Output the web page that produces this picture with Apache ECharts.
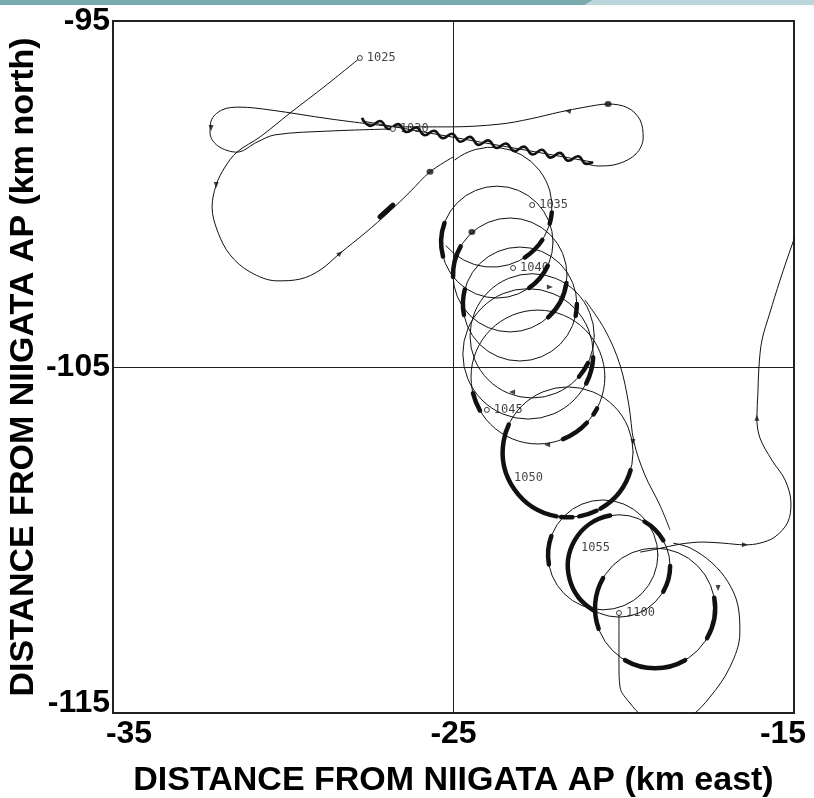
<!DOCTYPE html>
<html><head><meta charset="utf-8">
<script src="https://cdn.jsdelivr.net/npm/echarts@6/dist/echarts.min.js"></script>
<style>html,body{margin:0;padding:0;background:#fff}#c{width:814px;height:798px}</style>
</head><body><div id="c"></div>
<script>
// ---- axis ticks ----
const xTickValues = [-35, -25, -15];
const xTickLabels = ['-35', '-25', '-15'];
const yTickValues = [-115, -105, -95];
const yTickLabels = ['-115', '-105', '-95'];

// ---- flight track pieces (km east, km north) ----
const trackApproach = [[-27.75,-96.07],[-28.77,-96.88],[-29.80,-97.66],[-30.68,-98.35],[-31.36,-98.79],[-31.71,-99.22],[-31.97,-99.74],[-32.09,-100.38],[-31.92,-101.10],[-31.56,-101.76],[-30.98,-102.25],[-30.18,-102.51],[-29.51,-102.46],[-28.92,-102.20],[-28.33,-101.71],[-27.60,-101.13],[-26.86,-100.49],[-26.28,-99.94],[-25.69,-99.36],[-25.01,-98.93]];
const trackWestLoop = [[-26.78,-98.06],[-28.63,-97.83],[-30.39,-97.57],[-31.27,-97.49],[-31.80,-97.57],[-32.12,-97.89],[-32.15,-98.24],[-31.92,-98.61],[-31.36,-98.79],[-30.77,-98.50],[-30.24,-98.29],[-28.63,-98.18],[-26.78,-98.12]];
const trackEastLoop = [[-26.78,-98.06],[-25.10,-98.06],[-23.63,-97.98],[-22.75,-97.83],[-21.87,-97.63],[-21.14,-97.49],[-20.46,-97.40],[-19.88,-97.51],[-19.52,-97.86],[-19.43,-98.38],[-19.64,-98.84],[-20.17,-99.13],[-20.76,-99.19],[-21.20,-99.10]];
const trackWavy = [[-27.69,-97.80],[-27.43,-98.03],[-27.16,-97.89],[-26.90,-98.12],[-26.63,-97.98],[-26.37,-98.21],[-26.10,-98.08],[-25.84,-98.30],[-25.58,-98.17],[-25.31,-98.39],[-25.05,-98.26],[-24.79,-98.49],[-24.52,-98.35],[-24.26,-98.58],[-23.99,-98.45],[-23.73,-98.67],[-23.47,-98.54],[-23.20,-98.76],[-22.94,-98.63],[-22.67,-98.86],[-22.41,-98.72],[-22.15,-98.95],[-21.88,-98.81],[-21.62,-99.04],[-21.35,-98.91],[-21.09,-99.13],[-20.90,-99.08]];
const trackWavyBase = [[-27.69,-97.89],[-20.90,-99.08]];
const trackDescent = [[-21.14,-103.06],[-20.55,-103.93],[-20.11,-104.94],[-19.85,-106.10],[-19.70,-107.17],[-19.38,-108.12],[-18.94,-108.99],[-18.64,-109.71]];
const trackFinalLoop = [[-20.14,-112.11],[-20.14,-112.89],[-20.14,-113.61],[-20.11,-114.25],[-19.82,-114.71],[-19.43,-115.09],[-18.79,-115.26],[-18.05,-115.09],[-17.47,-114.54],[-16.88,-113.67],[-16.59,-112.69],[-16.65,-111.88],[-16.94,-111.21],[-17.41,-110.66],[-18.05,-110.23],[-18.55,-110.09]];
const trackExit = [[-19.52,-110.35],[-19.02,-110.26],[-18.35,-110.12],[-17.67,-110.06],[-17.09,-110.09],[-16.44,-110.14],[-16.00,-110.09],[-15.56,-109.91],[-15.18,-109.48],[-15.09,-108.93],[-15.26,-108.27],[-15.65,-107.69],[-16.00,-107.05],[-16.09,-106.47],[-16.06,-105.75],[-16.03,-105.00],[-15.94,-104.22],[-15.71,-103.44],[-15.41,-102.49],[-15.03,-101.39],[-14.94,-101.16]];

// ---- circling loops: centre, radius (km) and drawn part (degrees, clockwise from east) ----
const loopCx   = [-23.87,-23.72,-23.34,-23.05,-22.69,-22.81,-22.52,-21.64,-20.61,-20.14,-19.08];
const loopCy   = [-100.38,-101.39,-102.34,-103.18,-104.10,-104.62,-105.29,-107.46,-110.43,-110.75,-111.97];
const loopR    = [1.75,1.63,1.66,1.66,1.81,1.90,1.95,1.90,1.60,1.49,1.75];
const loopFrom = [232,0,0,0,0,0,0,0,0,0,0];
const loopTo   = [500,360,360,360,360,360,360,360,360,360,360];

// ---- heavy segments on loops (loop index, from / to angle in degrees, clockwise from east) ----
const thickLoop = [0,0,1,1,2,2,3,3,4,5,6,6,6,7,7,7,7,8,9,9,9,10,10,10];
const thickFrom = [5,33,165,25,178,8,169,0,26,3,150,43,28,100,86,64,16,170,120,300,0,160,-10,60];
const thickTo   = [16,57,200,55,210,48,195,12,41,27,166,68,34,205,96,80,60,200,260,330,30,210,30,120];
const thickLine = [[-27.16,-100.66],[-26.78,-100.32]];
const dotX = [-25.69,-20.46,-24.46];
const dotY = [-99.36,-97.40,-101.10];

// ---- time marks ----
const timeLabels = ['1025','1030','1035','1040','1045','1050','1055','1100'];
const timeX = [-27.75,-26.78,-22.69,-23.25,-24.02,-23.34,-21.37,-20.14];
const timeY = [-96.07,-98.12,-100.32,-102.14,-106.24,-108.21,-110.23,-112.11];
const timeMarked = [true,true,true,true,true,false,false,true];

// ---- direction arrows (travel direction in degrees, counter-clockwise from east) ----
const arrowX = [-31.97,-28.33,-32.12,-16.09,-16.44,-17.23,-19.73,-22.25,-23.28,-22.17,-21.64];
const arrowY = [-99.74,-101.71,-98.09,-106.47,-110.14,-111.39,-107.17,-107.25,-105.72,-102.69,-97.60];
const arrowDir = [-90,40,-90,90,0,-90,-90,180,180,0,170];

const INK = '#111';
const labelFont = {fontFamily:'Liberation Sans, Arial, sans-serif', fontWeight:'bold', fontSize:32, color:'#000'};

function thinLine(data){
  return {type:'line', data:data, smooth:0.35, symbol:'none', lineStyle:{color:INK, width:1}, silent:true, clip:true, z:3};
}
function arcItem(api, a0, a1, width){
  const c = api.coord([api.value(0), api.value(1)]);
  const s = api.size([api.value(2), api.value(2)]);
  return {type:'arc', shape:{cx:c[0], cy:c[1], r:(s[0]+s[1])/2, startAngle:a0*Math.PI/180, endAngle:a1*Math.PI/180, clockwise:true},
          style:{fill:null, stroke:INK, lineWidth:width, lineCap:'round'}};
}

const chart = echarts.init(document.getElementById('c'), null, {renderer:'canvas'});
chart.setOption({
  animation:false,
  backgroundColor:'#fff',
  graphic:[
    {type:'polygon', shape:{points:[[0,0],[593,0],[585,5],[0,5]]}, style:{fill:'#79aaae'}},
    {type:'polygon', shape:{points:[[593,0],[814,0],[814,5],[585,5]]}, style:{fill:'#bad6da'}}
  ],
  grid:{left:113, top:21, width:681, height:692, containLabel:false, outerBoundsMode:'none', show:true, borderColor:'#222', borderWidth:2, backgroundColor:'transparent'},
  xAxis:{
    type:'value', min:-35, max:-15, interval:10,
    axisLine:{show:false}, axisTick:{show:false},
    splitLine:{show:true, lineStyle:{color:'#222', width:1}},
    axisLabel:Object.assign({
      margin:5,
      formatter:function(v){ const i=xTickValues.indexOf(v); const t=xTickLabels[i]; if(i===0) return '{l|'+t+'}'; if(i===2) return '{r|'+t+'}'; return t; },
      rich:{ l:Object.assign({padding:[0,0,0,32]},labelFont), r:Object.assign({padding:[0,22,0,0]},labelFont) }
    }, labelFont),
    name:'DISTANCE FROM NIIGATA AP (km east)', nameLocation:'middle', nameGap:51, nameMoveOverlap:false,
    nameTextStyle:{fontFamily:'Liberation Sans, Arial, sans-serif', fontWeight:'bold', fontSize:34, color:'#000'}
  },
  yAxis:{
    type:'value', min:-115, max:-95, interval:10,
    axisLine:{show:false}, axisTick:{show:false},
    splitLine:{show:true, lineStyle:{color:'#222', width:1}},
    axisLabel:Object.assign({
      margin:3,
      formatter:function(v){ const i=yTickValues.indexOf(v); const t=yTickLabels[i]; if(i===0) return '{b|'+t+'}'; return t; },
      rich:{ b:Object.assign({padding:[0,0,20,0]},labelFont) }
    }, labelFont),
    name:'DISTANCE FROM NIIGATA AP (km north)', nameLocation:'middle', nameGap:72, nameRotate:90, nameMoveOverlap:false,
    nameTextStyle:{fontFamily:'Liberation Sans, Arial, sans-serif', fontWeight:'bold', fontSize:34, color:'#000'}
  },
  series:[
    thinLine(trackApproach),
    thinLine(trackWestLoop),
    thinLine(trackEastLoop),
    thinLine(trackDescent),
    thinLine(trackFinalLoop),
    thinLine(trackExit),
    {type:'line', data:trackWavyBase, symbol:'none', lineStyle:{color:INK, width:1}, silent:true, z:3},
    {type:'line', data:trackWavy, smooth:0.5, symbol:'none', lineStyle:{color:INK, width:2.6}, silent:true, z:4},
    {type:'line', data:thickLine, symbol:'none', lineStyle:{color:INK, width:5, cap:'round'}, silent:true, z:4},
    {
      type:'custom', silent:true, clip:true, z:3,
      data: loopCx.map((x,i)=>[x, loopCy[i], loopR[i], loopFrom[i], loopTo[i]]),
      renderItem:function(params, api){ return arcItem(api, api.value(3), api.value(4), 1); }
    },
    {
      type:'custom', silent:true, clip:true, z:4,
      data: thickLoop.map((k,i)=>[loopCx[k], loopCy[k], loopR[k], thickFrom[i], thickTo[i]]),
      renderItem:function(params, api){ return arcItem(api, api.value(3), api.value(4), 4.5); }
    },
    {type:'scatter', data:dotX.map((x,i)=>[x,dotY[i]]), symbol:'circle', symbolSize:[7,6], itemStyle:{color:INK}, silent:true, z:5},
    {
      type:'scatter', silent:true, z:6,
      data: timeLabels.map((t,i)=>({name:t, value:[timeX[i], timeY[i]], symbolSize: timeMarked[i]?5:0})),
      symbol:'circle',
      itemStyle:{color:'#fff', borderColor:INK, borderWidth:1},
      label:{show:true, position:'right', distance:4, formatter:'{b}', fontFamily:'DejaVu Sans Mono, monospace', fontSize:12, color:INK}
    },
    {
      type:'scatter', silent:true, z:6,
      data: arrowX.map((x,i)=>({value:[x, arrowY[i]], symbolRotate: arrowDir[i]-90})),
      symbol:'triangle', symbolSize:[5,6], itemStyle:{color:INK}
    }
  ]
});
</script>
</body></html>
